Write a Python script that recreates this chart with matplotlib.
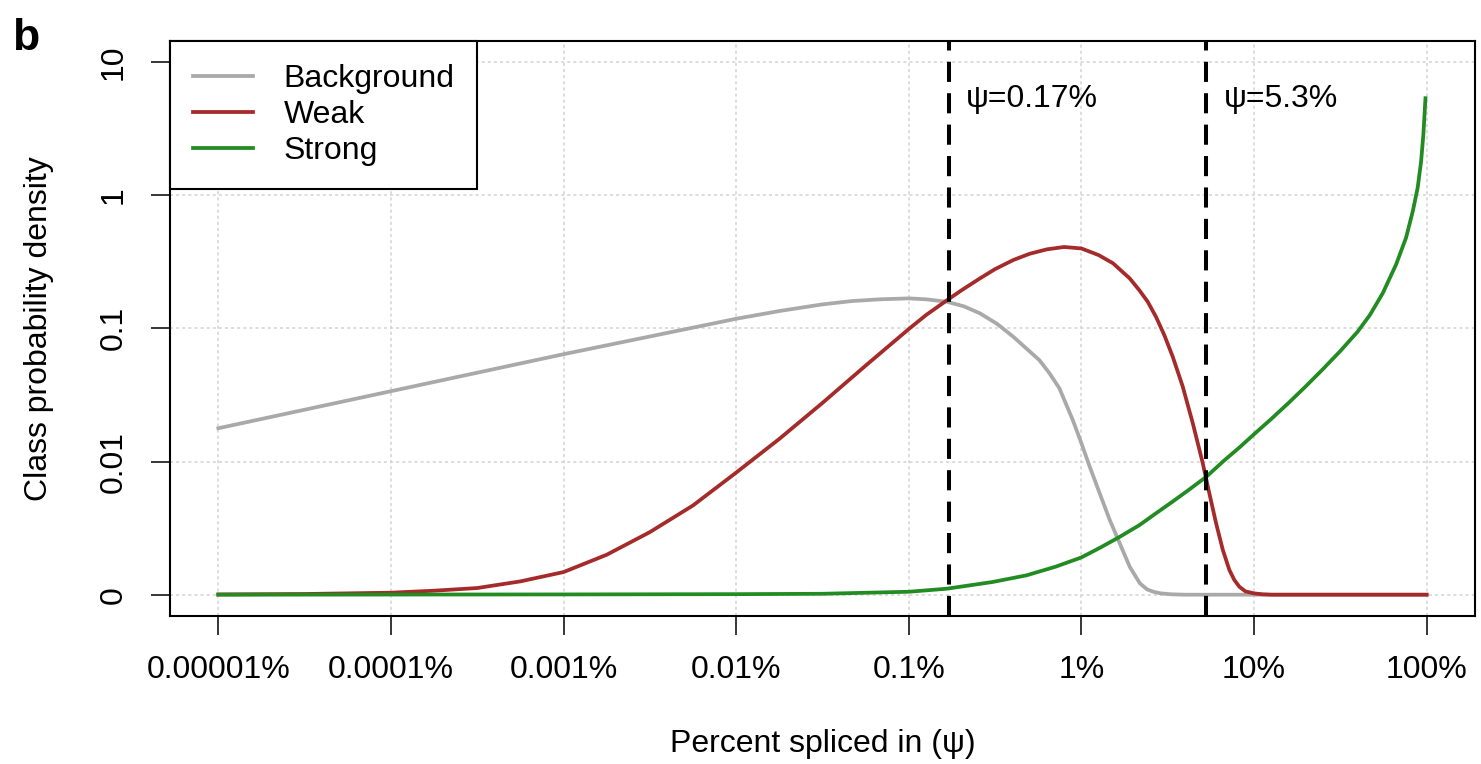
import numpy as np
import matplotlib.pyplot as plt
from matplotlib.ticker import NullLocator

plt.rcParams['font.family'] = ['Liberation Sans', 'DejaVu Sans']

# values (x in percent, y = class probability density)
bg_psi = [1e-5, 1e-4, 1e-3, 1e-2, 0.01778, 0.0316, 0.04677, 0.0679, 0.1, 0.1259,
          0.166, 0.2089, 0.258, 0.3236, 0.403, 0.4786, 0.570, 0.6516, 0.745,
          0.891, 1.0, 1.117, 1.276, 1.459, 1.667, 1.905, 2.178, 2.399, 2.600,
          2.884, 3.311, 3.98, 100]
bg_dens = [0.01678, 0.03273, 0.06297, 0.11703, 0.1339, 0.15036, 0.1593, 0.1642,
           0.1669, 0.1642, 0.1575, 0.1452, 0.1287, 0.1074, 0.0855, 0.0698, 0.0568,
           0.0452, 0.0345, 0.0195, 0.0127, 0.00814, 0.00477, 0.00264, 0.00143,
           0.00062, 0.00022, 0.0000965, 0.000054, 0.000023, 0.000007, 0.0, 0.0]

weak_psi = [1e-5, 3.16e-5, 1e-4, 1.778e-4, 3.16e-4, 5.623e-4, 1e-3, 1.778e-3,
            3.16e-3, 5.623e-3, 0.01, 0.01778, 0.0316, 0.0562, 0.1, 0.1259, 0.166,
            0.2042, 0.258, 0.3162, 0.403, 0.5012, 0.631, 0.7943, 1.0, 1.259,
            1.524, 1.905, 2.168, 2.421, 2.704, 3.020, 3.381, 3.864, 4.416, 5.047,
            5.508, 6.026, 6.592, 7.194, 7.691, 8.222, 8.913, 10, 11.22, 12.59, 100]
weak_dens = [0.000005, 0.000012, 0.000035, 0.0000715, 0.000122, 0.000259,
             0.000479, 0.000995, 0.00195, 0.00368, 0.00726, 0.01379, 0.02654,
             0.05148, 0.09786, 0.1249, 0.1612, 0.1940, 0.236, 0.2776, 0.325, 0.3621,
             0.391, 0.4073, 0.397, 0.3538, 0.307, 0.2361, 0.1918, 0.1575, 0.121,
             0.0881, 0.0602, 0.0355, 0.0184, 0.0087, 0.00477, 0.00244, 0.00117,
             0.000535, 0.000288, 0.000148, 0.000059, 0.000023, 0.000007, 0.0, 0.0]

strong_psi = [1e-5, 1e-3, 0.01, 0.0316, 0.1, 0.166, 0.305, 0.479, 0.7079, 1.0,
              1.288, 1.667, 2.168, 2.692, 3.381, 4.169, 5.297, 6.607, 8.222, 10,
              12.59, 15.85, 19.95, 25.12, 31.62, 39.81, 46.88, 55.72, 66.53,
              76.03, 83.18, 88.72, 92.90, 95.72, 98.4]
strong_dens = [0.0, 0.0000046, 0.0000093, 0.000016, 0.000052, 0.000109, 0.000245,
               0.000396, 0.000622, 0.000905, 0.00126, 0.00172, 0.00233, 0.00307,
               0.00401, 0.00510, 0.00669, 0.009, 0.01174, 0.01503, 0.01989,
               0.02654, 0.03573, 0.04855, 0.06661, 0.0934, 0.1249, 0.1831, 0.3010,
               0.4798, 0.761, 1.139, 1.806, 2.863, 5.345]

thresholds = [0.17, 5.3]
threshold_labels = ['ψ=0.17%', 'ψ=5.3%']

xtick_vals = [1e-5, 1e-4, 1e-3, 1e-2, 0.1, 1, 10, 100]
xtick_labels = ['0.00001%', '0.0001%', '0.001%', '0.01%', '0.1%', '1%', '10%', '100%']
ytick_labels = ['0', '0.01', '0.1', '1', '10']

OFFSET = 0.001  # density axis shows log10(density + 0.001)
FS = 23


def fwd(y):
    return np.log10(np.maximum(np.asarray(y, dtype=float) + OFFSET, 1e-12))


def inv(t):
    return 10 ** np.asarray(t, dtype=float) - OFFSET


fig = plt.figure(figsize=(14.81, 7.64), dpi=100)
ax = fig.add_axes([170 / 1481, 148 / 764, 1305 / 1481, 575.3 / 764])
ax.set_xscale('log')
ax.set_yscale('function', functions=(fwd, inv))

ax.plot(bg_psi, bg_dens, color='#A9A9A9', lw=2.7, label='Background')
ax.plot(weak_psi, weak_dens, color='#A52A2A', lw=2.7, label='Weak')
ax.plot(strong_psi, strong_dens, color='#228B22', lw=2.7, label='Strong')

for th, lab in zip(thresholds, threshold_labels):
    ax.axvline(th, color='black', lw=2.9, dashes=(5, 2.8))
    ax.annotate(lab, xy=(th, 0.885), xycoords=('data', 'axes fraction'),
                xytext=(12.5, 0), textcoords='offset points',
                fontsize=FS, ha='left', va='baseline')

ax.set_xlim(10 ** -5.28, 10 ** 2.28)
ax.set_ylim(inv(-3.16), inv(1.16))

ax.set_xticks(xtick_vals)
ax.set_xticklabels(xtick_labels)
ax.set_yticks([inv(k) for k in range(-3, 2)])
ax.set_yticklabels(ytick_labels)
ax.xaxis.set_minor_locator(NullLocator())
ax.yaxis.set_minor_locator(NullLocator())
plt.setp(ax.get_yticklabels(), rotation=90, va='center')

ax.tick_params(axis='both', length=14, width=1.1, direction='out', labelsize=FS)
ax.tick_params(axis='x', pad=14)
ax.tick_params(axis='y', pad=16)

ax.grid(True, color='#d3d3d3', linestyle=(0, (2, 2)), linewidth=1.1)
ax.set_axisbelow(True)
for sp in ax.spines.values():
    sp.set_linewidth(1.5)

ax.set_xlabel('Percent spliced in (ψ)', fontsize=FS)
ax.xaxis.label.set_va('baseline')
ax.xaxis.set_label_coords(0.5, -0.2364)
ax.set_ylabel('Class probability density', fontsize=FS)
ax.yaxis.label.set_va('baseline')
ax.yaxis.set_label_coords(-0.0943, 0.5)

leg = ax.legend(loc='upper left', bbox_to_anchor=(0, 1), borderaxespad=0,
                fancybox=False, edgecolor='black', framealpha=1, fontsize=FS,
                handlelength=1.88, handletextpad=0.95, borderpad=0.72,
                labelspacing=0.2)
leg.get_frame().set_linewidth(1.5)

fig.text(12 / 1481, 1 - 50 / 764, 'b', fontsize=32, fontweight='bold',
         ha='left', va='baseline')

fig.savefig('out.png', dpi=100)
